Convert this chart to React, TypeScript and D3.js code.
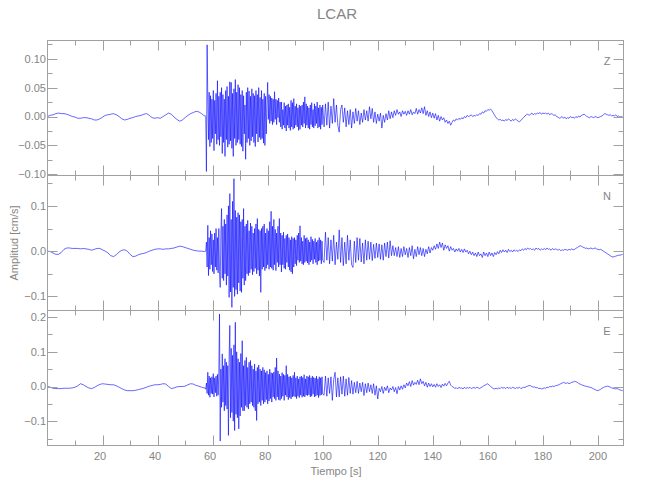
import React from "react";
import * as d3 from "d3";

// Sampling of the traces (seconds): pre-event, strong motion, coda
const PRE_START = 0;
const PRE_STEP = 1;
const ACT_START = 57.25;
const ACT_STEP = 0.25;
const LATE_START = 100.5;
const LATE_STEP = 0.5;

// Values in 1e-3 cm/s
const zPre = [0,2,3,5,6,5,5,4,2,0,
  -1,-3,-3,-2,-2,-3,-4,-6,-6,-4,
  -1,2,3,4,5,3,0,-4,-6,-5,
  -3,-2,0,1,2,4,5,2,-2,-3,
  -2,-3,0,3,6,4,-1,-5,-8,-6,
  -2,2,5,7,9,8,5,1];
const zAct = [2,0,-95,124,30,-40,42,-52,36,-45,
  30,-38,45,-59,28,-30,40,-48,62,-40,
  35,-50,42,-35,50,-64,38,-45,30,-69,
  45,-40,52,-53,35,-48,60,-42,59,-55,
  40,-69,48,-38,64,-50,42,-45,55,-40,
  50,-48,38,-52,45,-60,36,-30,20,-74,
  42,-45,50,-38,44,-50,35,-42,48,-35,
  40,-45,36,-52,45,-30,38,-44,50,-36,
  33,-40,45,-38,30,-46,40,-50,35,-30,
  20,59,-5,38,-12,35,-8,32,-14,30,
  -10,43,-5,30,-14,28,-2,32,-10,25,
  -18,25,-22,12,-15,24,-20,18,-25,20,
  -15,22,-20,16,-24,28,-18,24,-22,31,
  -20,18,-15,22,-18,15,-24,20,-22,18,
  -15,20,-18,25,-12,34,-20,22,-15,18,
  -20,15,-22,20,-14,24,-18,12,-20,22,
  -16,18,-12,25,-20,15,-18,20,-22,16,
  -14,20];
const zLate = [-18,22,-15,25,-20,18,-12,31,-10,20,
  -15,-27,12,20,-10,15,-18,10,-14,12,
  -20,8,-12,14,-8,10,-14,6,-10,12,
  -6,10,-8,17,-4,14,-10,8,-12,4,
  -8,6,-20,2,-10,5,-6,10,-4,8,
  -2,10,2,12,4,8,0,10,4,9,
  2,10,4,12,3,8,5,14,4,12,
  6,15,5,17,2,10,0,8,-2,6,
  -3,5,-6,2,-8,0,-6,-2,-10,-6,
  -12,-8,-15,-10,-6,-8,-4,-6,-3,-5,
  -2,-4,0,-2,2,0,1,3,0,2,
  1,3,2,5,4,8,6,10,9,12,
  11,13,10,6,2,-2,-4,-6,-5,-7,
  -6,-8,-5,-7,-4,-6,-8,-5,-7,-4,
  -6,-8,-9,-7,-4,-2,1,3,4,2,
  4,6,3,5,4,6,5,7,4,6,
  5,6,4,6,3,5,4,2,3,0,
  -1,-3,-2,0,-3,-1,-4,-2,-3,0,
  -2,-1,-3,0,-2,1,-1,2,3,4,
  2,0,-1,-2,0,-1,-2,0,-1,-2,
  -1,0,1,3,5,4,3,2,3,1,
  2,1,3,0,1,-1,0,-1];

const nPre = [0,-1,-4,-7,-7,-3,4,7,7,6,
  6,6,5,6,5,4,2,4,6,6,
  3,0,-4,-10,-12,-8,-2,2,3,0,
  -7,-12,-11,-8,-6,-5,-3,0,2,4,
  5,5,4,5,5,6,7,9,11,10,
  8,6,4,2,1,0,0,-1];
const nAct = [-1,0,20,-35,57,-54,30,-40,45,-30,
  38,-45,25,-50,40,-35,50,-42,30,-48,
  50,-45,-80,40,94,-60,55,-65,70,-50,
  60,-75,80,-55,100,-102,127,-90,70,-124,
  110,-80,160,-100,90,-85,75,-95,85,-70,
  80,-88,65,-91,70,-60,94,-75,55,-65,
  60,-50,68,-54,45,-48,62,-40,55,-52,
  40,-45,50,-38,60,-50,72,-42,48,-55,
  45,-91,50,-40,55,-35,60,-43,40,-38,
  50,-30,45,-40,65,-35,88,-38,55,-42,
  70,-30,48,-43,40,-25,55,-35,72,-30,
  40,-46,35,-30,42,-38,28,-40,35,-25,
  38,-35,30,-42,25,-46,32,-50,28,-35,
  30,-28,25,-32,35,-20,40,-25,56,-22,
  30,-28,22,-30,35,-25,28,-22,30,-26,
  25,-30,20,-24,32,-20,26,-28,22,-18,
  28,-25,20,-30,24,-22,30,-20,25,-28,
  22,-20];
const nLate = [-25,42,-20,30,-28,25,-22,35,-30,20,
  -18,47,-25,30,-32,20,-28,35,-20,25,
  -30,-36,22,-25,30,-20,28,-24,18,-28,
  25,-20,22,-18,20,-21,15,-16,18,-14,
  16,-18,14,-20,18,-12,20,-15,23,-10,
  12,-10,8,-12,10,-14,6,-12,10,-8,
  6,-14,8,-10,12,-17,4,-12,10,-8,
  8,-10,6,-12,4,-6,10,-4,8,2,
  12,4,16,6,20,8,18,2,14,6,
  12,0,10,2,6,-2,5,0,6,-2,
  4,-3,5,-2,2,-6,0,-8,-2,-10,
  -4,-12,-2,-10,-6,-14,-2,-10,-4,-12,
  -2,-10,-4,-12,-3,-8,-1,-6,2,-3,
  3,-2,2,-3,4,-1,2,-2,3,0,
  2,-1,3,1,5,2,6,3,7,4,
  6,3,5,2,7,4,6,2,5,3,
  6,3,7,4,5,2,6,3,5,4,
  2,4,1,3,2,4,3,2,4,3,
  5,3,4,6,8,10,12,11,9,8,
  6,7,5,6,7,5,6,7,5,4,
  3,4,2,0,-2,-4,-6,-8,-10,-12,
  -13,-12,-11,-10,-9,-9,-8,-7];

const ePre = [0,-2,-5,-6,-6,-6,-5,-5,-5,-4,
  -2,2,8,5,0,-4,-6,-3,2,6,
  8,7,6,5,5,2,-2,-6,-10,-12,
  -12,-12,-11,-9,-7,-5,-2,1,3,5,
  5,6,8,7,0,-6,-4,-1,0,0,
  1,5,8,7,3,1,-2,-4];
const eAct = [-4,-8,10,-20,41,-25,30,-31,25,-20,
  28,-22,37,-30,25,-18,30,-28,35,-25,
  40,209,-157,50,-60,94,-45,60,-70,80,
  -55,70,-65,60,-141,85,176,-90,110,-75,
  90,-100,120,-127,185,-80,100,-90,80,-122,
  70,-85,95,-60,132,-70,60,-70,75,-55,
  84,-60,55,-65,70,-50,75,-45,60,-55,
  50,-60,65,-70,45,-98,55,-50,62,-45,
  50,-55,45,-40,55,-50,48,-45,40,-38,
  45,-50,35,-42,50,-35,40,-45,38,-30,
  42,-35,55,-40,82,-30,45,-38,36,-40,
  30,-35,40,-28,35,-40,32,-25,60,-30,
  35,-38,28,-32,30,-36,25,-30,32,-28,
  41,-30,25,-35,30,-28,22,-32,28,-25,
  30,-31,26,-28,34,-30,22,-25,30,-26,
  28,-24,32,-30,25,-28,30,-22,26,-30,
  24,-28,30,-25,22,-32,28,-26,25,-24,
  28,-22];
const eLate = [-25,30,-28,25,-20,28,-40,20,41,-30,
  25,-30,28,-22,30,-28,22,-25,26,-20,
  17,-22,12,-18,15,-20,10,-15,12,-26,
  8,-18,10,-15,5,-20,8,-25,2,-36,
  -5,-15,0,-20,-2,-12,2,-18,-4,-10,
  0,-15,-3,-21,0,-10,2,-8,5,-4,
  10,2,14,0,17,4,12,6,18,5,
  22,8,15,2,12,-2,10,0,8,-1,
  6,-2,8,0,5,-3,7,1,9,2,
  10,15,4,0,-2,-6,-3,-7,-2,-5,
  -4,-7,-2,-6,-3,-5,-2,-6,-4,-3,
  -5,-2,-4,-6,-3,-1,2,4,6,8,
  4,0,-3,-6,-7,-5,-7,-4,-6,-2,
  -5,-3,-6,-2,-5,-3,-6,-2,-4,-6,
  -3,-5,-2,-6,-4,-2,-3,0,1,3,
  2,0,-2,-1,-4,-3,-6,-5,-7,-6,
  -4,-5,-2,-3,0,-1,1,0,2,3,
  4,6,8,10,12,10,9,11,8,10,
  12,13,15,14,12,9,7,5,4,2,
  1,0,-1,-2,-3,-5,-7,-9,-11,-12,
  -10,-8,-5,-3,-1,0,1,0,-2,-4,
  -5,-6,-7,-6,-8,-10,-11,-12];

const components = ["Z", "N", "E"];
const yDomains = [[-0.102, 0.1315], [-0.131, 0.167], [-0.170, 0.219]];
const yMajorTicks = [[-0.10, -0.05, 0, 0.05, 0.10], [-0.1, 0, 0.1], [-0.1, 0, 0.1, 0.2]];
const yMajorLabels = [["\u22120.10", "\u22120.05", "0.00", "0.05", "0.10"], ["\u22120.1", "0.0", "0.1"], ["\u22120.1", "0.0", "0.1", "0.2"]];
const yMinorTicks = [[-0.075, -0.025, 0.025, 0.075, 0.125], [-0.05, 0.05, 0.15], [-0.15, -0.05, 0.05, 0.15]];
const xMajorTicks = [20, 40, 60, 80, 100, 120, 140, 160, 180, 200];
const xMajorLabels = ["20", "40", "60", "80", "100", "120", "140", "160", "180", "200"];
const xMinorTicks = [10, 30, 50, 70, 90, 110, 130, 150, 170, 190];
const X_DOMAIN = [0, 209.3];
const title = "LCAR";
const xTitle = "Tiempo [s]";
const yTitle = "Amplitud [cm/s]";

const tracesRaw = [[zPre, zAct, zLate], [nPre, nAct, nLate], [ePre, eAct, eLate]];

function buildSeries(pre: number[], act: number[], late: number[]) {
  const out: { t: number; v: number }[] = [];
  pre.forEach((v, i) => out.push({ t: PRE_START + i * PRE_STEP, v: v / 1000 }));
  act.forEach((v, i) => out.push({ t: ACT_START + i * ACT_STEP, v: v / 1000 }));
  late.forEach((v, i) => out.push({ t: LATE_START + i * LATE_STEP, v: v / 1000 }));
  return out;
}

const W = 650, H = 500;
const LEFT = 47.5, RIGHT = 623.5;
const TOP = 40.5, PH = 135;
const AXIS = "#a0a0a0";
const TXT = "#858585";
const FONT = "'Liberation Sans', Arial, sans-serif";
const MAJ = 10, MIN = 5;

export default function App() {
  const x = d3.scaleLinear().domain(X_DOMAIN).range([LEFT, RIGHT]);
  return (
    <svg width={W} height={H} style={{ position: "absolute", left: 0, top: 0, background: "#fff" }}
      fontFamily={FONT}>
      <rect x={0} y={0} width={W} height={H} fill="#fff" />
      <text x={337} y={19} textAnchor="middle" fontSize={15} fill={TXT}
        fontFamily="'Liberation Sans Narrow', 'Liberation Sans', sans-serif">{title}</text>
      {components.map((c, p) => {
        const y0 = TOP + p * PH, y1 = y0 + PH;
        const y = d3.scaleLinear().domain(yDomains[p]).range([y1, y0]);
        const data = buildSeries(tracesRaw[p][0], tracesRaw[p][1], tracesRaw[p][2]);
        const line = d3.line<{ t: number; v: number }>().x(d => x(d.t)).y(d => y(d.v));
        const cid = "clip" + p;
        return (
          <g key={c}>
            <defs>
              <clipPath id={cid}><rect x={LEFT} y={y0} width={RIGHT - LEFT} height={PH} /></clipPath>
            </defs>
            <path d={line(data) || ""} fill="none" stroke="#0000ff" strokeWidth={0.6}
              clipPath={`url(#${cid})`} strokeLinejoin="round" />
            <rect x={LEFT} y={y0} width={RIGHT - LEFT} height={PH} fill="none" stroke={AXIS} strokeWidth={1} />
            {xMajorTicks.map(t => (
              <g key={"xM" + t}>
                <line x1={Math.round(x(t)) + 0.5} x2={Math.round(x(t)) + 0.5} y1={y1} y2={y1 - MAJ} stroke={AXIS} />
                <line x1={Math.round(x(t)) + 0.5} x2={Math.round(x(t)) + 0.5} y1={y0} y2={y0 + MAJ} stroke={AXIS} />
              </g>
            ))}
            {xMinorTicks.map(t => (
              <g key={"xm" + t}>
                <line x1={Math.round(x(t)) + 0.5} x2={Math.round(x(t)) + 0.5} y1={y1} y2={y1 - MIN} stroke={AXIS} />
                <line x1={Math.round(x(t)) + 0.5} x2={Math.round(x(t)) + 0.5} y1={y0} y2={y0 + MIN} stroke={AXIS} />
              </g>
            ))}
            {yMajorTicks[p].map((v, i) => (
              <g key={"yM" + i}>
                <line x1={LEFT} x2={LEFT + MAJ} y1={Math.round(y(v)) + 0.5} y2={Math.round(y(v)) + 0.5} stroke={AXIS} />
                <line x1={RIGHT} x2={RIGHT - MAJ} y1={Math.round(y(v)) + 0.5} y2={Math.round(y(v)) + 0.5} stroke={AXIS} />
                <text x={LEFT - 1.5} y={y(v)} dy="0.36em" textAnchor="end" fontSize={11} fill={TXT}>{yMajorLabels[p][i]}</text>
              </g>
            ))}
            {yMinorTicks[p].map((v, i) => (
              <g key={"ym" + i}>
                <line x1={LEFT} x2={LEFT + MIN} y1={Math.round(y(v)) + 0.5} y2={Math.round(y(v)) + 0.5} stroke={AXIS} />
                <line x1={RIGHT} x2={RIGHT - MIN} y1={Math.round(y(v)) + 0.5} y2={Math.round(y(v)) + 0.5} stroke={AXIS} />
              </g>
            ))}
            <text x={607} y={y0 + 21} dy="0.36em" textAnchor="middle" fontSize={11} fill={TXT}>{c}</text>
          </g>
        );
      })}
      {xMajorTicks.map((t, i) => (
        <text key={"xl" + t} x={x(t) + (xMajorLabels[i].length === 2 ? -2.5 : 0)} y={460} textAnchor="middle"
          fontSize={11} fill={TXT}>{xMajorLabels[i]}</text>
      ))}
      <text x={336} y={475} textAnchor="middle" fontSize={11} fill={TXT}>{xTitle}</text>
      <text transform="translate(18,243) rotate(-90)" textAnchor="middle" fontSize={11} fill={TXT}>{yTitle}</text>
    </svg>
  );
}
